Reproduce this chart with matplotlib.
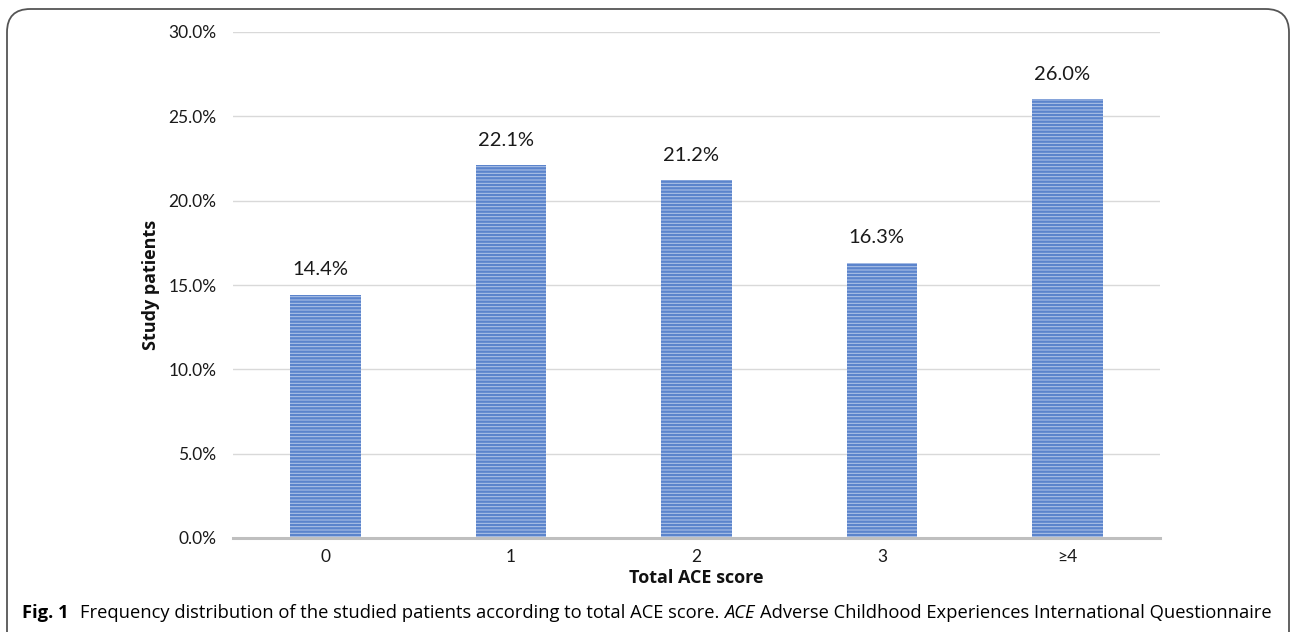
import matplotlib
matplotlib.use("Agg")
import matplotlib.pyplot as plt
from matplotlib.patches import FancyBboxPatch
from matplotlib.ticker import FuncFormatter, MultipleLocator

categories = ["0", "1", "2", "3", "\u22654"]
values = [14.4, 22.1, 21.2, 16.3, 26.0]
value_labels = ["14.4%", "22.1%", "21.2%", "16.3%", "26.0%"]

W, H, DPI = 1292, 632, 100
fig = plt.figure(figsize=(W / DPI, H / DPI), dpi=DPI)
plt.rcParams['hatch.color'] = '#4472c4'
plt.rcParams['hatch.linewidth'] = 1.7

ax = fig.add_axes([233 / W, 1 - 538 / H, (1160 - 233) / W, (538 - 32) / H])
x = list(range(len(categories)))
ax.bar(x, values, width=0.38, facecolor='#b4c7e9', edgecolor='#5b84cc',
       linewidth=0, hatch='-----', zorder=3)
for xi, v, lab in zip(x, values, value_labels):
    ax.annotate(lab, (xi, v), xytext=(-4, 12), textcoords='offset points',
                ha='center', va='bottom', fontsize=14.5, family='Lato', color='#1a1a1a')

ax.set_xlim(-0.5, len(categories) - 0.5)
ax.set_ylim(0, 30)
ax.yaxis.set_major_locator(MultipleLocator(5))
ax.yaxis.set_major_formatter(FuncFormatter(lambda v, p: f"{v:.1f}%"))
ax.set_xticks(x)
ax.set_xticklabels(categories)
ax.grid(axis='y', color='#d9d9d9', linewidth=1.0, zorder=0)
for s in ['top', 'right', 'left']:
    ax.spines[s].set_visible(False)
ax.spines['bottom'].set_color('#bfbfbf')
ax.spines['bottom'].set_linewidth(2.2)
ax.spines['bottom'].set_zorder(4)
ax.tick_params(axis='both', length=0, labelsize=12.5, labelcolor='#1a1a1a')
ax.tick_params(axis='y', pad=12)
ax.tick_params(axis='x', pad=8)
for t in ax.get_xticklabels() + ax.get_yticklabels():
    t.set_family(['Lato', 'DejaVu Sans'])
ax.set_ylabel("Study patients", fontsize=13, fontweight='bold', family='Open Sans',
              labelpad=6, color='#111111')
ax.set_xlabel("Total ACE score", fontsize=13, fontweight='bold', family='Open Sans',
              labelpad=3, color='#111111')

# border
box = FancyBboxPatch((7 / W, -0.05), (1289 - 7) / W, (632 - 9) / H + 0.05,
                     boxstyle="round,pad=0,rounding_size=0.018",
                     transform=fig.transFigure, fill=False, edgecolor='#555555',
                     linewidth=1.3, mutation_aspect=W / H)
fig.patches.append(box)

cy = 1 - 613 / H
fs = 13.25
t1 = fig.text(22 / W, cy, "Fig. 1", fontsize=fs, fontweight='bold',
              family='Open Sans', va='center', ha='left')
fig.canvas.draw()
bb = t1.get_window_extent()
t2 = fig.text((bb.x1 + 11) / W, cy,
              "Frequency distribution of the studied patients according to total ACE score.",
              fontsize=fs, family='Open Sans', va='center', ha='left')
fig.canvas.draw()
bb = t2.get_window_extent()
t3 = fig.text((bb.x1 + 5) / W, cy, "ACE", fontsize=fs, family='Open Sans',
              style='italic', va='center', ha='left')
fig.canvas.draw()
bb = t3.get_window_extent()
fig.text((bb.x1 + 5) / W, cy,
         "Adverse Childhood Experiences International Questionnaire",
         fontsize=fs, family='Open Sans', va='center', ha='left')

fig.savefig("out.png", dpi=DPI)
